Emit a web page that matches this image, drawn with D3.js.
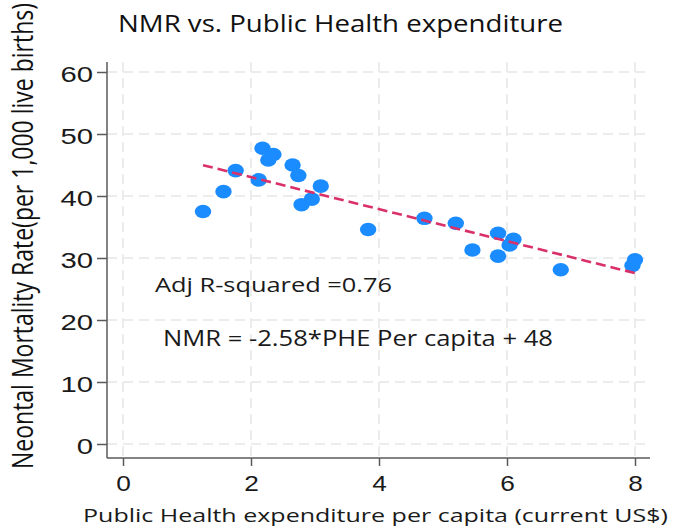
<!DOCTYPE html>
<html>
<head>
<meta charset="utf-8">
<script src="https://cdn.jsdelivr.net/npm/d3@7"></script>
<style>
  body { margin: 0; background: #fff; }
  svg { display: block; font-family: "Open Sans", "Noto Sans", sans-serif; }
</style>
</head>
<body>
<div id="chart"></div>
<script>
// PHE per capita (current US$) and NMR per 1,000 live births
const phe = [1.25, 1.57, 1.76, 2.12, 2.18, 2.27, 2.35, 2.65, 2.74, 2.79, 2.95, 3.09,
             3.83, 4.71, 5.2, 5.46, 5.86, 6.1, 6.04, 5.86, 6.84, 8.0, 7.96];
const nmr = [37.5, 40.7, 44.1, 42.6, 47.7, 45.8, 46.7, 45.0, 43.3, 38.6, 39.5, 41.6,
             34.6, 36.4, 35.6, 31.3, 34.0, 33.0, 32.1, 30.3, 28.1, 29.7, 28.8];
const fitSlope = -2.58, fitIntercept = 48.2;
const xTicks = [0, 2, 4, 6, 8];
const yTicks = [0, 10, 20, 30, 40, 50, 60];
const notes = ["Adj R-squared =0.76", "NMR = -2.58*PHE Per capita + 48"];

const W = 675, H = 529;
const svg = d3.select("#chart").append("svg")
    .attr("width", W)
    .attr("height", H);

// the original picture is stretched sideways, so text gets widened
function widen(sel, k) {
  sel.each(function() {
    const w = this.getComputedTextLength();
    d3.select(this).attr("textLength", w * k).attr("lengthAdjust", "spacingAndGlyphs");
  });
}

const x = d3.scaleLinear().domain([0, 8]).range([123, 635]);
const y = d3.scaleLinear().domain([0, 60]).range([444, 72]);
const plotL = 107, plotB = 458, plotT = 62, plotR = 650;

// grid
svg.append("g").selectAll("line")
  .data(yTicks)
  .enter().append("line")
    .attr("x1", plotL).attr("x2", 645)
    .attr("y1", d => y(d)).attr("y2", d => y(d))
    .attr("stroke", "#e6e6e6").attr("stroke-width", 1.5)
    .attr("stroke-dasharray", "10,6");
svg.append("g").selectAll("line")
  .data(xTicks)
  .enter().append("line")
    .attr("x1", d => x(d)).attr("x2", d => x(d))
    .attr("y1", plotT).attr("y2", plotB)
    .attr("stroke", "#e6e6e6").attr("stroke-width", 1.5)
    .attr("stroke-dasharray", "10,6");

// axes
const yAxis = svg.append("g")
    .attr("transform", "translate(" + plotL + ",0)")
    .call(d3.axisLeft(y).tickValues(yTicks).tickSize(10).tickPadding(4));
const xAxis = svg.append("g")
    .attr("transform", "translate(0," + plotB + ")")
    .call(d3.axisBottom(x).tickValues(xTicks).tickSize(8).tickPadding(10));
yAxis.select(".domain").remove();
xAxis.select(".domain").remove();
svg.append("line").attr("x1", plotL).attr("x2", plotL).attr("y1", plotT).attr("y2", plotB)
    .attr("stroke", "#5a5a5a").attr("stroke-width", 1.5);
svg.append("line").attr("x1", plotL).attr("x2", plotR).attr("y1", plotB).attr("y2", plotB)
    .attr("stroke", "#5a5a5a").attr("stroke-width", 1.5);
svg.selectAll(".tick line").attr("stroke", "#5a5a5a").attr("stroke-width", 1.5);
yAxis.selectAll("text")
    .attr("font-size", 21.5).attr("fill", "#1a1a1a").attr("dy", "0.45em")
    .attr("font-family", "Liberation Sans, Arial, sans-serif")
    .call(widen, 1.36);
xAxis.selectAll("text")
    .attr("font-size", 21.5).attr("fill", "#1a1a1a")
    .call(widen, 1.22);

// points
svg.append("g").selectAll("ellipse")
  .data(phe.map((v, i) => ({ phe: v, nmr: nmr[i] })))
  .enter().append("ellipse")
    .attr("cx", d => x(d.phe))
    .attr("cy", d => y(d.nmr))
    .attr("rx", 8.2)
    .attr("ry", 6.8)
    .attr("fill", "#1a8cff");

// fit line
const xr = d3.extent(phe);
svg.append("line")
    .attr("x1", x(xr[0])).attr("y1", y(fitSlope * xr[0] + fitIntercept))
    .attr("x2", x(xr[1])).attr("y2", y(fitSlope * xr[1] + fitIntercept))
    .attr("stroke", "#d9306a").attr("stroke-width", 2.6)
    .attr("stroke-dasharray", "10,5");

// titles
svg.append("text")
    .attr("x", 118).attr("y", 32)
    .attr("font-size", 23).attr("fill", "#111")
    .attr("textLength", 445).attr("lengthAdjust", "spacingAndGlyphs")
    .text("NMR vs. Public Health expenditure");

svg.append("text")
    .attr("x", 83).attr("y", 522)
    .attr("font-size", 18.5).attr("fill", "#1a1a1a")
    .attr("textLength", 585).attr("lengthAdjust", "spacingAndGlyphs")
    .text("Public Health expenditure per capita (current US$)");

svg.append("text")
    .attr("transform", "translate(33,236) scale(1.36,1) rotate(-90)")
    .attr("text-anchor", "middle")
    .attr("font-size", 21.5).attr("fill", "#111")
    .attr("textLength", 466).attr("lengthAdjust", "spacingAndGlyphs")
    .text("Neontal Mortality Rate(per 1,000 live births)");

svg.append("text")
    .attr("x", 155).attr("y", 292)
    .attr("font-size", 20).attr("fill", "#1a1a1a")
    .attr("textLength", 237).attr("lengthAdjust", "spacingAndGlyphs")
    .text(notes[0]);
svg.append("text")
    .attr("x", 163).attr("y", 346)
    .attr("font-size", 21.5).attr("fill", "#1a1a1a")
    .attr("textLength", 390).attr("lengthAdjust", "spacingAndGlyphs")
    .text(notes[1]);
</script>
</body>
</html>
